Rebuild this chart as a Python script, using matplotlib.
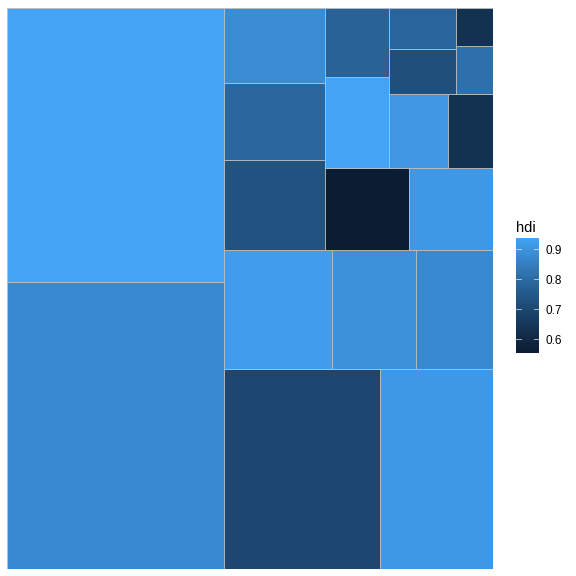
import numpy as np
import matplotlib
matplotlib.use("Agg")
import matplotlib.pyplot as plt
from matplotlib.colors import ListedColormap, Normalize
from matplotlib.patches import Rectangle

countries = ["European Union", "United States", "China", "Japan", "Germany",
             "France", "United Kingdom", "Brazil", "Russia", "Italy", "India",
             "Canada", "Australia", "Mexico", "South Korea", "Indonesia",
             "Turkey", "Saudi Arabia", "Argentina", "South Africa"]
gdp_mil_usd = [16414483, 15684750, 8227037, 5963969, 3400579, 2608699, 2440505,
               2395968, 2021960, 2014079, 1824832, 1819081, 1541797, 1177116,
               1155872, 878198, 794468, 727307, 474954, 384315]
hdi = [0.876, 0.937, 0.699, 0.912, 0.920, 0.893, 0.875, 0.730, 0.788, 0.881,
       0.554, 0.911, 0.938, 0.775, 0.909, 0.629, 0.722, 0.782, 0.811, 0.629]
legend_ticks = [0.6, 0.7, 0.8, 0.9]

plt.rcParams['font.family'] = ['Liberation Sans', 'DejaVu Sans']

# ---- ggplot2 default gradient (#132B43 -> #56B1F7, Lab space) ----
def srgb_to_lab(rgb):
    rgb = np.asarray(rgb, float)
    lin = np.where(rgb <= 0.04045, rgb / 12.92, ((rgb + 0.055) / 1.055) ** 2.4)
    M = np.array([[0.4124, 0.3576, 0.1805], [0.2126, 0.7152, 0.0722], [0.0193, 0.1192, 0.9505]])
    xyz = M @ lin
    wp = np.array([0.95047, 1.0, 1.08883])
    t = xyz / wp
    f = np.where(t > (6/29) ** 3, np.cbrt(t), t / (3 * (6/29) ** 2) + 4/29)
    return np.array([116 * f[1] - 16, 500 * (f[0] - f[1]), 200 * (f[1] - f[2])])

def lab_to_srgb(lab):
    L, a, b = lab
    fy = (L + 16) / 116
    fx = fy + a / 500
    fz = fy - b / 200
    def finv(f):
        return np.where(f > 6/29, f ** 3, 3 * (6/29) ** 2 * (f - 4/29))
    wp = np.array([0.95047, 1.0, 1.08883])
    xyz = np.array([finv(fx), finv(fy), finv(fz)]) * wp
    Minv = np.array([[3.2406, -1.5372, -0.4986], [-0.9689, 1.8758, 0.0415], [0.0557, -0.2040, 1.0570]])
    lin = Minv @ xyz
    lin = np.clip(lin, 0, 1)
    rgb = np.where(lin <= 0.0031308, 12.92 * lin, 1.055 * lin ** (1/2.4) - 0.055)
    return np.clip(rgb, 0, 1)

def hex2rgb(h):
    return np.array([int(h[i:i+2], 16) / 255 for i in (1, 3, 5)])

GAMMA = 1.22  # display gamma shift seen in the reference rendering
lo = srgb_to_lab(hex2rgb("#132B43"))
hi = srgb_to_lab(hex2rgb("#56B1F7"))
cols = [lab_to_srgb(lo + (hi - lo) * t) ** GAMMA for t in np.linspace(0, 1, 256)]
cmap = ListedColormap(cols)
norm = Normalize(vmin=min(hdi), vmax=max(hdi))

# ---- squarified layout (treemapify style) in unit square ----
def worst(areas, side):
    s = sum(areas)
    thick = s / side
    return max(max(thick / (a / thick), (a / thick) / thick) for a in areas)

def squarify(vals, x, y, w, h):
    rects = []
    vals = list(vals)
    while vals:
        side = h if w >= h else w
        row = [vals[0]]
        i = 1
        while i < len(vals) and worst(row + [vals[i]], side) <= worst(row, side):
            row.append(vals[i])
            i += 1
        vals = vals[i:]
        thick = sum(row) / side
        if w >= h:
            yy = y
            for a in row:
                hh = a / thick
                rects.append((x, yy, thick, hh))
                yy += hh
            x += thick
            w -= thick
        else:
            xx = x
            for a in row:
                ww = a / thick
                rects.append((xx, y, ww, thick))
                xx += ww
            y += thick
            h -= thick
    return rects

total = sum(gdp_mil_usd)
areas = [g / total for g in gdp_mil_usd]
rects = squarify(areas, 0.0, 0.0, 1.0, 1.0)

fig = plt.figure(figsize=(6, 6), dpi=96)
ax = fig.add_axes([7/576, 7.5/576, 486.3/576, 561/576])
for (rx, ry, rw, rh), v in zip(rects, hdi):
    ax.add_patch(Rectangle((rx, ry), rw, rh, facecolor=cmap(norm(v)),
                           edgecolor="#BEBEBE", linewidth=0.6))
ax.set_xlim(0, 1)
ax.set_ylim(0, 1)
ax.axis("off")

# ---- colour bar legend ----
cax = fig.add_axes([516/576, 223/576, 23/576, 115/576])
grad = np.linspace(norm.vmin, norm.vmax, 300).reshape(-1, 1)
cax.imshow(grad, cmap=cmap, norm=norm, aspect="auto", origin="lower",
           extent=[0, 1, norm.vmin, norm.vmax])
cax.set_xlim(0, 1)
cax.set_ylim(norm.vmin, norm.vmax)
for t in legend_ticks:
    cax.plot([0, 0.2], [t, t], color="white", lw=0.6, alpha=0.8)
    cax.plot([0.8, 1], [t, t], color="white", lw=0.6, alpha=0.8)
for s in cax.spines.values():
    s.set_visible(False)
cax.set_xticks([])
cax.yaxis.tick_right()
cax.set_yticks(legend_ticks)
cax.set_yticklabels([f"{t:.1f}" for t in legend_ticks])
cax.tick_params(axis="y", length=0, pad=4.5, labelsize=8.8, labelcolor="black")
fig.text(516/576, 1 - 228/576, "hdi", fontsize=11, va="center", ha="left")

fig.savefig("out.png", dpi=96)
